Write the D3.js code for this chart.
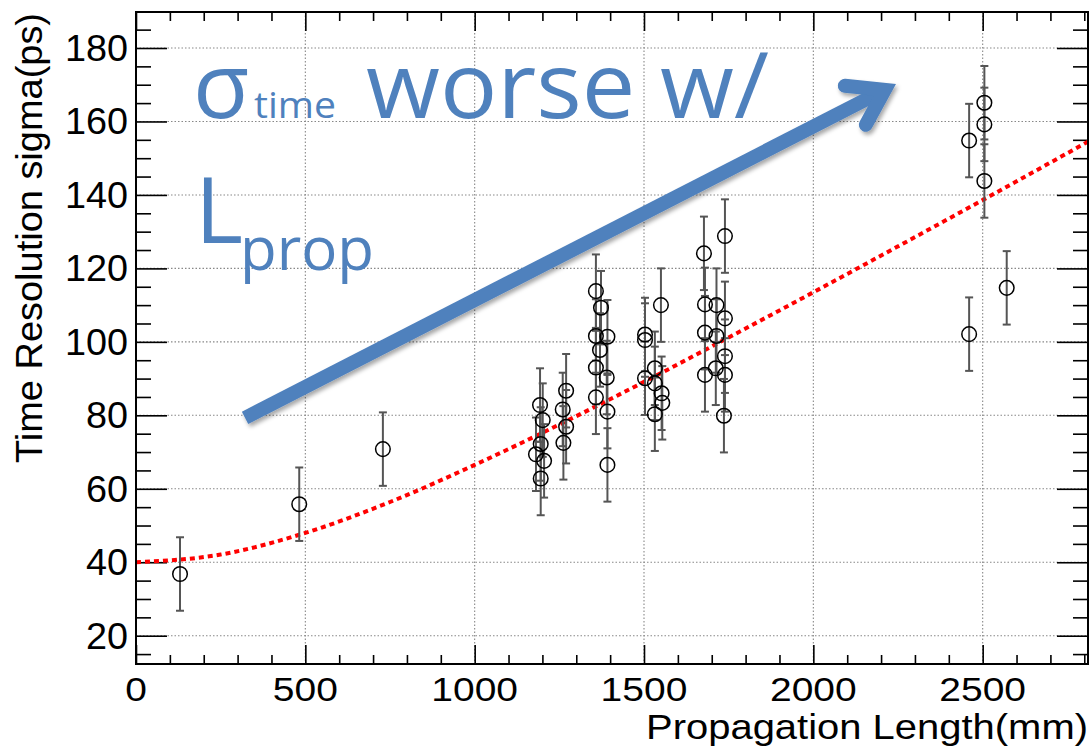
<!DOCTYPE html>
<html>
<head>
<meta charset="utf-8">
<script src="https://cdn.jsdelivr.net/npm/d3@7"></script>
<style>
  html, body { margin: 0; padding: 0; background: #fff; }
  svg { display: block; }
  .tick-label { font-family: "Liberation Sans", Arial, Helvetica, sans-serif; fill: #000; }
  .note { font-family: "Open Sans", "Noto Sans", sans-serif; fill: #4f81bd; }
</style>
</head>
<body>
<svg id="chart" width="1090" height="746"></svg>
<script>
// Measured time resolution per propagation length (mm -> ps)
const propLength = [130, 482, 729,
  1193, 1201, 1195, 1181, 1205, 1195,
  1260, 1270, 1270, 1262,
  1358, 1373, 1358, 1392, 1370, 1358, 1390, 1358, 1392, 1392,
  1503, 1503, 1503, 1550, 1532, 1532, 1552, 1554, 1532,
  1677, 1680, 1680, 1680, 1714, 1714, 1712, 1739, 1739, 1739, 1739, 1736,
  2460, 2505, 2505, 2505, 2571, 2460];
const sigmaPs = [36.8, 55.8, 70.8,
  82.8, 78.7, 72.2, 69.4, 67.6, 62.8,
  81.6, 86.7, 76.9, 72.5,
  113.8, 109.3, 101.6, 101.4, 97.8, 93.0, 90.3, 84.9, 81.0, 66.5,
  102.0, 100.5, 90.1, 110.0, 92.8, 88.7, 86.0, 83.4, 80.3,
  124.1, 110.2, 102.5, 91.0, 110.0, 101.6, 92.8, 128.8, 106.4, 96.1, 91.0, 79.9,
  154.8, 165.1, 159.2, 143.8, 114.7, 102.1];
const sigmaErr = [10, 10, 10,
  10, 10, 10, 10, 10, 10,
  10, 10, 10, 10,
  10, 10, 10, 10, 10, 10, 10, 10, 10, 10,
  10, 10, 10, 10, 10, 10, 10, 10, 10,
  10, 10, 10, 10, 10, 10, 10, 10, 10, 10, 10, 10,
  10, 10, 10, 10, 10, 10];

// Fit curve sampled along the length axis
const fitLength = [0, 250, 500, 750, 1000, 1250, 1500, 1750, 2000, 2250, 2500, 2811];
const fitSigma  = [40.0, 42.1, 48.0, 56.4, 66.5, 77.5, 89.1, 101.2, 113.5, 126.0, 138.6, 154.5];

// Axis ticks
const xTickValues = [0, 500, 1000, 1500, 2000, 2500];
const yTickValues = [20, 40, 60, 80, 100, 120, 140, 160, 180];

const svg = d3.select("#chart");
const plotLeft = 136, plotRight = 1088, plotTop = 12, plotBottom = 664;

const x = d3.scaleLinear().domain([0, 2811]).range([plotLeft, plotRight]);
const y = d3.scaleLinear().domain([12.3, 189.8]).range([plotBottom, plotTop]);

const defs = svg.append("defs");
const shadow = defs.append("filter").attr("id", "arrowShadow")
  .attr("x", "-10%").attr("y", "-10%").attr("width", "130%").attr("height", "130%");
shadow.append("feDropShadow").attr("dx", 2).attr("dy", 3).attr("stdDeviation", 2)
  .attr("flood-color", "#000").attr("flood-opacity", 0.35);

// Dotted grid at major ticks
const grid = svg.append("g");
grid.selectAll("line.gy").data(yTickValues).join("line")
  .attr("x1", plotLeft).attr("x2", plotRight)
  .attr("y1", d => y(d)).attr("y2", d => y(d))
  .attr("stroke", "#888").attr("stroke-width", 1.1).attr("stroke-dasharray", "1.5,2");
grid.selectAll("line.gx").data(xTickValues.filter(d => d > 0)).join("line")
  .attr("y1", plotTop).attr("y2", plotBottom)
  .attr("x1", d => x(d)).attr("x2", d => x(d))
  .attr("stroke", "#888").attr("stroke-width", 1.1).attr("stroke-dasharray", "1.5,2");

// Axes with major/minor ticks, mirrored on top and right
const xMinor = d3.range(0, 2811, 100).filter(d => d % 500 !== 0);
const yMinor = d3.range(15, 190, 5).filter(d => d % 20 !== 0);

function ticks(g, axis, major) {
  g.call(axis.tickValues(major).tickFormat("").tickSizeOuter(0))
    .call(s => s.select(".domain").remove())
    .call(s => s.selectAll("line").attr("stroke", "#000").attr("stroke-width", 1.6));
}

ticks(svg.append("g").attr("transform", `translate(0,${plotBottom})`), d3.axisTop(x).tickSize(19), xTickValues);
ticks(svg.append("g").attr("transform", `translate(0,${plotBottom})`), d3.axisTop(x).tickSize(9), xMinor);
ticks(svg.append("g").attr("transform", `translate(0,${plotTop})`), d3.axisBottom(x).tickSize(19), xTickValues);
ticks(svg.append("g").attr("transform", `translate(0,${plotTop})`), d3.axisBottom(x).tickSize(9), xMinor);
ticks(svg.append("g").attr("transform", `translate(${plotLeft},0)`), d3.axisRight(y).tickSize(31), yTickValues);
ticks(svg.append("g").attr("transform", `translate(${plotLeft},0)`), d3.axisRight(y).tickSize(15), yMinor);
ticks(svg.append("g").attr("transform", `translate(${plotRight},0)`), d3.axisLeft(y).tickSize(31), yTickValues);
ticks(svg.append("g").attr("transform", `translate(${plotRight},0)`), d3.axisLeft(y).tickSize(15), yMinor);

// Tick labels
svg.append("g").selectAll("text").data(xTickValues).join("text")
  .attr("class", "tick-label")
  .attr("x", d => x(d)).attr("y", 701)
  .attr("text-anchor", "middle")
  .attr("font-size", 34)
  .attr("textLength", d => String(d).length * 0.556 * 39)
  .attr("lengthAdjust", "spacingAndGlyphs")
  .text(d => d);

svg.append("g").selectAll("text").data(yTickValues).join("text")
  .attr("class", "tick-label")
  .attr("x", 128).attr("y", d => y(d) + 13)
  .attr("text-anchor", "end")
  .attr("font-size", 36)
  .attr("textLength", d => String(d).length * 0.556 * 37.8)
  .attr("lengthAdjust", "spacingAndGlyphs")
  .text(d => d);

// Axis titles
svg.append("text").attr("class", "tick-label")
  .attr("x", plotRight).attr("y", 739)
  .attr("text-anchor", "end").attr("font-size", 35)
  .attr("textLength", 442).attr("lengthAdjust", "spacingAndGlyphs")
  .text("Propagation Length(mm)");

svg.append("text").attr("class", "tick-label")
  .attr("transform", "translate(42,13) rotate(-90)")
  .attr("text-anchor", "end").attr("font-size", 37)
  .attr("textLength", 450).attr("lengthAdjust", "spacingAndGlyphs")
  .text("Time Resolution sigma(ps)");

// Fit curve
const fitPts = fitLength.map((d, i) => [d, fitSigma[i]]);
svg.append("path")
  .datum(fitPts)
  .attr("fill", "none").attr("stroke", "#ff0000").attr("stroke-width", 4)
  .attr("stroke-dasharray", "5,4")
  .attr("d", d3.line().x(d => x(d[0])).y(d => y(d[1])).curve(d3.curveMonotoneX));

// Data points with error bars
const pts = propLength.map((d, i) => ({ L: d, s: sigmaPs[i], e: sigmaErr[i] }));
const pg = svg.append("g");
pg.selectAll("line.err").data(pts).join("line")
  .attr("x1", d => x(d.L)).attr("x2", d => x(d.L))
  .attr("y1", d => y(d.s - d.e)).attr("y2", d => y(d.s + d.e))
  .attr("stroke", "#555").attr("stroke-width", 2);
["lo", "hi"].forEach(k => {
  pg.append("g").selectAll("line").data(pts).join("line")
    .attr("x1", d => x(d.L) - 4).attr("x2", d => x(d.L) + 4)
    .attr("y1", d => y(k === "lo" ? d.s - d.e : d.s + d.e))
    .attr("y2", d => y(k === "lo" ? d.s - d.e : d.s + d.e))
    .attr("stroke", "#555").attr("stroke-width", 2);
});
pg.append("g").selectAll("circle").data(pts).join("circle")
  .attr("cx", d => x(d.L)).attr("cy", d => y(d.s)).attr("r", 7.3)
  .attr("fill", "none").attr("stroke", "#000").attr("stroke-width", 1.5);

// Frame
svg.append("rect").attr("x", plotLeft).attr("y", plotTop)
  .attr("width", plotRight - plotLeft).attr("height", plotBottom - plotTop)
  .attr("fill", "none").attr("stroke", "#000").attr("stroke-width", 2);

// Trend arrow, positioned in (length, sigma)
const shaftStart = [322, 79.3];
const arrowVertex = [2211, 168.6];
const headArmA = [2093, 169.7];
const headArmB = [2155, 159.1];
const note = svg.append("g").attr("filter", "url(#arrowShadow)");
const vPx = [x(arrowVertex[0]), y(arrowVertex[1])];
const startPx = [x(shaftStart[0]), y(shaftStart[1])];
note.append("line")
  .attr("x1", startPx[0]).attr("y1", startPx[1])
  .attr("x2", vPx[0]).attr("y2", vPx[1])
  .attr("stroke", "#4f81bd").attr("stroke-width", 14).attr("stroke-linecap", "butt");
note.append("path")
  .attr("d", d3.line()([[x(headArmA[0]), y(headArmA[1])], vPx, [x(headArmB[0]), y(headArmB[1])]]))
  .attr("fill", "none").attr("stroke", "#4f81bd").attr("stroke-width", 14)
  .attr("stroke-linecap", "round").attr("stroke-linejoin", "miter").attr("stroke-miterlimit", 10);

// Annotation text
svg.append("text").attr("class", "note").attr("x", 193).attr("y", 118).attr("font-size", 92).text("σ");
svg.append("text").attr("class", "note").attr("x", 254).attr("y", 118).attr("font-size", 37)
  .attr("textLength", 82).attr("lengthAdjust", "spacingAndGlyphs").text("time");
svg.append("text").attr("class", "note").attr("x", 366).attr("y", 118).attr("font-size", 92)
  .attr("textLength", 403).attr("lengthAdjust", "spacingAndGlyphs").text("worse w/");
svg.append("text").attr("class", "note").attr("x", 195).attr("y", 243).attr("font-size", 92).text("L");
svg.append("text").attr("class", "note").attr("x", 240).attr("y", 270).attr("font-size", 60).text("prop");
</script>
</body>
</html>
